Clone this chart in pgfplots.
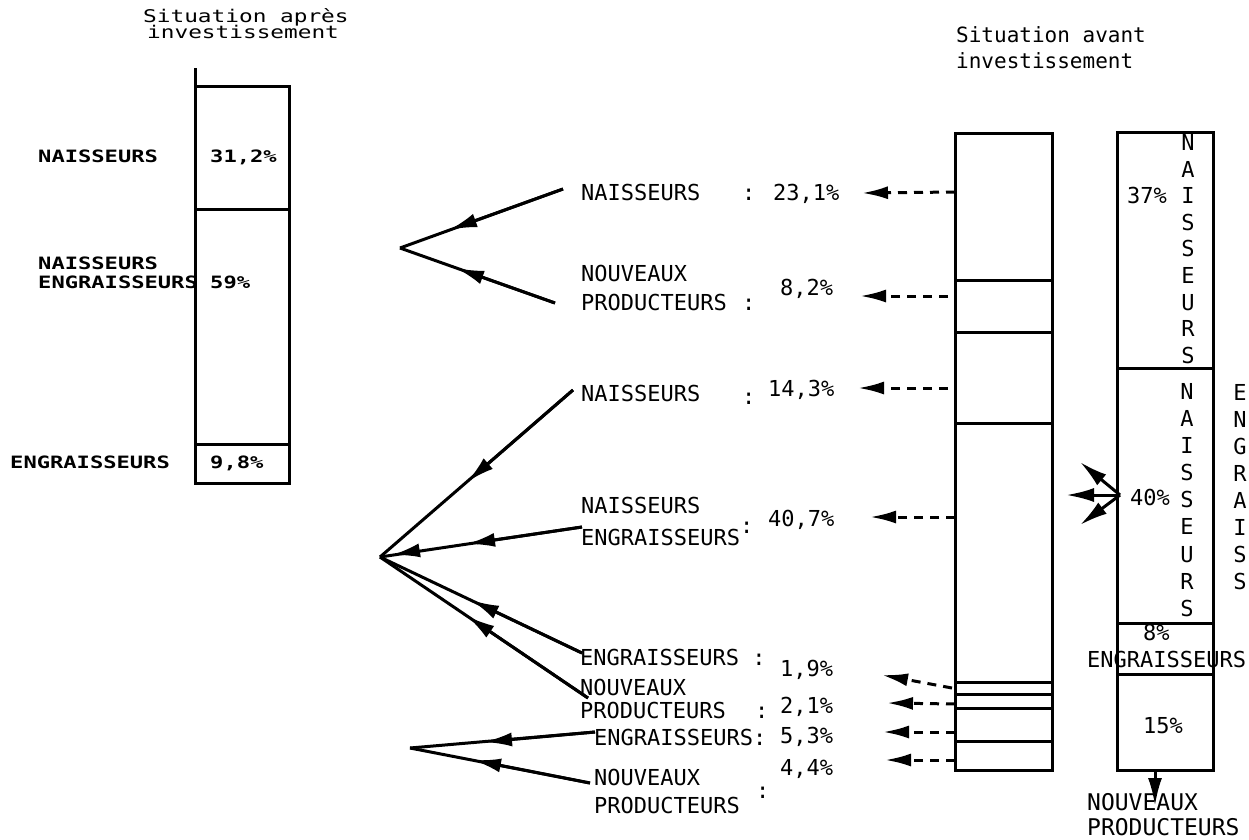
\documentclass[border=0pt]{standalone}
\usepackage{pgfplots}
\pgfplotsset{compat=1.18}
\usepackage{fontspec}
\setmainfont{DejaVu Sans Mono}
\newfontfamily\wfont[FakeStretch=1.3]{DejaVu Sans Mono}
\usetikzlibrary{arrows.meta}
\begin{document}
\begin{tikzpicture}
\path[use as bounding box] (0,0) rectangle (1249bp,-840bp);
\pgfplotsset{barax/.style={scale only axis, anchor=north west, hide axis, clip=false,
  ymin=0, ymax=100, y dir=reverse, xmin=-0.5, xmax=0.5, ybar stacked, bar shift=0pt,
  cycle list={draw=black,fill=white,line width=3bp\\}}}
\tikzset{
  mid/.style={font=\fontsize{22bp}{24bp}\selectfont, inner sep=0pt, anchor=base west},
  lft/.style={font=\wfont\bfseries\fontsize{17bp}{20bp}\selectfont, inner sep=0pt, anchor=base west},
  rgt/.style={font=\fontsize{23bp}{26bp}\selectfont, inner sep=0pt, anchor=base west},
  arr/.style={line width=3bp, -{Latex[length=28bp,width=14bp]}},
  seg/.style={line width=3bp},
  darr/.style={line width=3bp, dash pattern=on 9bp off 7bp, -{Latex[length=26bp,width=13bp]}}
}
% ---- left bar: situation apres investissement
\begin{axis}[barax, at={(195bp,-86bp)}, width=94bp, height=397bp, bar width=94bp]
\addplot coordinates {(0,31.2)};
\addplot coordinates {(0,59)};
\addplot coordinates {(0,9.8)};
\end{axis}
% ---- middle bar: detail avant investissement
\begin{axis}[barax, at={(955bp,-133bp)}, width=97bp, height=637bp, bar width=97bp]
\addplot coordinates {(0,23.1)};
\addplot coordinates {(0,8.2)};
\addplot coordinates {(0,14.3)};
\addplot coordinates {(0,40.7)};
\addplot coordinates {(0,1.9)};
\addplot coordinates {(0,2.1)};
\addplot coordinates {(0,5.3)};
\addplot coordinates {(0,4.4)};
\end{axis}
% ---- right bar: situation avant investissement
\begin{axis}[barax, at={(1117bp,-132bp)}, width=96bp, height=638bp, bar width=96bp]
\addplot coordinates {(0,37)};
\addplot coordinates {(0,40)};
\addplot coordinates {(0,8)};
\addplot coordinates {(0,15)};
\end{axis}
% ---- annotations (pixel frame)
\begin{axis}[at={(0,0)}, anchor=north west, scale only axis, width=1249bp, height=840bp,
  xmin=0, xmax=1249, ymin=0, ymax=840, y dir=reverse, hide axis, clip=false]
\addplot[seg] coordinates {(195,86) (195,68)};
% titles
\node[lft, font=\wfont\fontsize{17.5bp}{20bp}\selectfont] at (143,22) {Situation après};
\node[lft, font=\wfont\fontsize{17.5bp}{20bp}\selectfont] at (147,38) {investissement};
\node[mid, font=\fontsize{21bp}{24bp}\selectfont] at (956,42) {Situation avant};
\node[mid, font=\fontsize{21bp}{24bp}\selectfont] at (956,68) {investissement};
% left labels
\node[lft] at (38,162) {NAISSEURS};
\node[lft] at (210,162) {31,2\%};
\node[lft] at (38,269) {NAISSEURS};
\node[lft] at (38,288) {ENGRAISSEURS};
\node[lft] at (210,288) {59\%};
\node[lft] at (10,468) {ENGRAISSEURS};
\node[lft] at (210,468) {9,8\%};
% middle labels
\node[mid] at (581,200) {NAISSEURS};
\node[mid] at (742,200) {: 23,1\%};
\node[mid] at (581,281) {NOUVEAUX};
\node[mid] at (581,310) {PRODUCTEURS};
\node[mid] at (742,310) {:};
\node[mid] at (780,295) {8,2\%};
\node[mid] at (581,401) {NAISSEURS};
\node[mid] at (742,404) {:};
\node[mid] at (768,396) {14,3\%};
\node[mid] at (581,513) {NAISSEURS};
\node[mid] at (581,545) {ENGRAISSEURS};
\node[mid] at (740,533) {:};
\node[mid] at (768,526) {40,7\%};
\node[mid] at (580,665) {ENGRAISSEURS :};
\node[mid] at (780,676) {1,9\%};
\node[mid] at (580,695) {NOUVEAUX};
\node[mid] at (580,718) {PRODUCTEURS};
\node[mid] at (755,718) {:};
\node[mid] at (780,713) {2,1\%};
\node[mid] at (594,745) {ENGRAISSEURS:};
\node[mid] at (780,743) {5,3\%};
\node[mid] at (780,775) {4,4\%};
\node[mid] at (594,785) {NOUVEAUX};
\node[mid] at (594,813) {PRODUCTEURS};
\node[mid] at (756,798) {:};
% right bar labels
\node[mid] at (1127,203) {37\%};
\node[mid] at (1130,505) {40\%};
\node[mid] at (1143,640) {8\%};
\node[mid] at (1087,667) {ENGRAISSEURS};
\node[mid] at (1143,733) {15\%};
\node[rgt] at (1087,810) {NOUVEAUX};
\node[rgt] at (1087,835) {PRODUCTEURS};
\node[align=center, inner sep=0pt, font=\fontsize{22bp}{26.6bp}\selectfont] at (1188,249) {N\\A\\I\\S\\S\\E\\U\\R\\S};
\node[align=center, inner sep=0pt, font=\fontsize{22bp}{27.1bp}\selectfont] at (1187,500) {N\\A\\I\\S\\S\\E\\U\\R\\S};
\node[align=center, inner sep=0pt, font=\fontsize{22bp}{27.1bp}\selectfont] at (1240,487) {E\\N\\G\\R\\A\\I\\S\\S};
% dashed arrows from the detail bar
\addplot[darr] coordinates {(955,192) (862,193)};
\addplot[darr] coordinates {(948,296) (860,296)};
\addplot[darr] coordinates {(948,388) (858,388)};
\addplot[darr] coordinates {(955,517) (870,517)};
\addplot[darr] coordinates {(952,688) (882,675)};
\addplot[darr] coordinates {(955,704) (887,703)};
\addplot[darr] coordinates {(955,732) (883,732)};
\addplot[darr] coordinates {(955,760) (885,760)};
% arrows from 40% segment and bottom of right bar
\addplot[arr] coordinates {(1120,495) (1080,462)};
\addplot[arr] coordinates {(1120,495) (1066,495)};
\addplot[arr] coordinates {(1120,495) (1080,525)};
\addplot[arr] coordinates {(1155,770) (1155,806)};
% converging arrows, group 1
\addplot[seg] coordinates {(563,189) (400,248)};
\addplot[arr] coordinates {(563,189) (449,230)};
\addplot[seg] coordinates {(555,303) (400,248)};
\addplot[arr] coordinates {(555,303) (456,268)};
% group 2
\addplot[seg] coordinates {(573,390) (380,557)};
\addplot[arr] coordinates {(573,390) (467,482)};
\addplot[seg] coordinates {(582,527) (380,557)};
\addplot[arr] coordinates {(582,527) (467,544)};
\addplot[seg] coordinates {(582,653) (380,557)};
\addplot[arr] coordinates {(582,653) (471,600)};
\addplot[seg] coordinates {(588,698) (380,557)};
\addplot[arr] coordinates {(588,698) (467,616)};
\addplot[arr] coordinates {(410,552) (392,555)};
% group 3
\addplot[seg] coordinates {(595,732) (410,748)};
\addplot[arr] coordinates {(595,732) (484,742)};
\addplot[seg] coordinates {(590,783) (410,748)};
\addplot[arr] coordinates {(590,783) (473,760)};
\end{axis}
\end{tikzpicture}
\end{document}
